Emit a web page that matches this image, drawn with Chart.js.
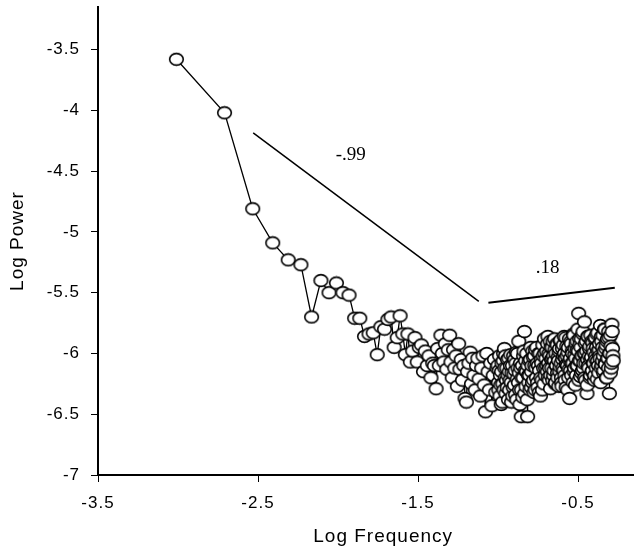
<!DOCTYPE html>
<html>
<head>
<meta charset="utf-8">
<script src="https://cdn.jsdelivr.net/npm/chart.js@4.4.1/dist/chart.umd.min.js"></script>
<style>
  html, body { margin: 0; padding: 0; background: #fff; }
  #wrap { width: 634px; height: 551px; }
</style>
</head>
<body>
<div id="wrap"><canvas id="spectrum"></canvas></div>
<script>
// log frequency of each spectral estimate
const logFreq = [
  -3.010,-2.709,-2.533,-2.408,-2.311,-2.232,-2.165,-2.107,-2.056,-2.010,
  -1.969,-1.931,-1.896,-1.864,-1.834,-1.806,-1.780,-1.755,-1.732,-1.709,
  -1.688,-1.668,-1.649,-1.630,-1.612,-1.595,-1.579,-1.563,-1.548,-1.533,
  -1.519,-1.505,-1.492,-1.479,-1.466,-1.454,-1.442,-1.431,-1.419,-1.408,
  -1.398,-1.387,-1.377,-1.367,-1.357,-1.348,-1.338,-1.329,-1.320,-1.311,
  -1.302,-1.294,-1.286,-1.278,-1.270,-1.262,-1.254,-1.246,-1.238,-1.230,
  -1.222,-1.214,-1.206,-1.198,-1.190,-1.182,-1.174,-1.166,-1.158,-1.150,
  -1.142,-1.134,-1.126,-1.118,-1.110,-1.102,-1.094,-1.086,-1.078,-1.070,
  -1.062,-1.054,-1.046,-1.038,-1.030,-1.022,-1.014,-1.006,
  -1.0000,-0.9975,-0.9950,-0.9925,-0.9900,-0.9875,-0.9850,-0.9825,-0.9800,-0.9775,
  -0.9750,-0.9725,-0.9700,-0.9675,-0.9650,-0.9625,-0.9600,-0.9575,-0.9550,-0.9525,
  -0.9500,-0.9475,-0.9450,-0.9425,-0.9400,-0.9375,-0.9350,-0.9325,-0.9300,-0.9275,
  -0.9250,-0.9225,-0.9200,-0.9175,-0.9150,-0.9125,-0.9100,-0.9075,-0.9050,-0.9025,
  -0.9000,-0.8975,-0.8950,-0.8925,-0.8900,-0.8875,-0.8850,-0.8825,-0.8800,-0.8775,
  -0.8750,-0.8725,-0.8700,-0.8675,-0.8650,-0.8625,-0.8600,-0.8575,-0.8550,-0.8525,
  -0.8500,-0.8475,-0.8450,-0.8425,-0.8400,-0.8375,-0.8350,-0.8325,-0.8300,-0.8275,
  -0.8250,-0.8225,-0.8200,-0.8175,-0.8150,-0.8125,-0.8100,-0.8075,-0.8050,-0.8025,
  -0.8000,-0.7975,-0.7950,-0.7925,-0.7900,-0.7875,-0.7850,-0.7825,-0.7800,-0.7775,
  -0.7750,-0.7725,-0.7700,-0.7675,-0.7650,-0.7625,-0.7600,-0.7575,-0.7550,-0.7525,
  -0.7500,-0.7475,-0.7450,-0.7425,-0.7400,-0.7375,-0.7350,-0.7325,-0.7300,-0.7275,
  -0.7250,-0.7225,-0.7200,-0.7175,-0.7150,-0.7125,-0.7100,-0.7075,-0.7050,-0.7025,
  -0.7000,
  -0.696,-0.694,-0.692,-0.690,-0.688,-0.686,-0.684,-0.682,-0.680,-0.678,
  -0.676,-0.674,-0.672,-0.670,-0.668,-0.666,-0.664,-0.662,-0.660,-0.658,
  -0.656,-0.654,-0.652,-0.650,-0.648,-0.646,-0.644,-0.642,-0.640,-0.638,
  -0.636,-0.634,-0.632,-0.630,-0.628,-0.626,-0.624,-0.622,-0.620,-0.618,
  -0.616,-0.614,-0.612,-0.610,-0.608,-0.606,-0.604,-0.602,-0.600,-0.598,
  -0.596,-0.594,-0.592,-0.590,-0.588,-0.586,-0.584,-0.582,-0.580,-0.578,
  -0.576,-0.574,-0.572,-0.570,-0.568,-0.566,-0.564,-0.562,-0.560,-0.558,
  -0.556,-0.554,-0.552,-0.550,-0.548,-0.546,-0.544,-0.542,-0.540,-0.538,
  -0.536,-0.534,-0.532,-0.530,-0.528,-0.526,-0.524,-0.522,-0.520,-0.518,
  -0.516,-0.514,-0.512,-0.510,-0.508,-0.506,-0.504,-0.502,-0.500,-0.498,
  -0.496,-0.494,-0.492,-0.490,-0.488,-0.486,-0.484,-0.482,-0.480,-0.478,
  -0.476,-0.474,-0.472,-0.470,-0.468,-0.466,-0.464,-0.462,-0.460,-0.458,
  -0.456,-0.454,-0.452,-0.450,-0.448,-0.446,-0.444,-0.442,-0.440,-0.438,
  -0.436,-0.434,-0.432,-0.430,-0.428,-0.426,-0.424,-0.422,-0.420,-0.418,
  -0.416,-0.414,-0.412,-0.410,-0.408,-0.406,-0.404,-0.402,-0.400,-0.398,
  -0.396,-0.394,-0.392,-0.390,-0.388,-0.386,-0.384,-0.382,-0.380,-0.378,
  -0.376,-0.374,-0.372,-0.370,-0.368,-0.366,-0.364,-0.362,-0.360,-0.358,
  -0.356,-0.354,-0.352,-0.350,-0.348,-0.346,-0.344,-0.342,-0.340,-0.338,
  -0.336,-0.334,-0.332,-0.330,-0.328,-0.326,-0.324,-0.322,-0.320,-0.318,
  -0.316,-0.314,-0.312,-0.310,-0.308,-0.306,-0.304,-0.302,-0.300,-0.298,
  -0.296,-0.294,-0.292,-0.290,-0.288,-0.286,-0.284,-0.282,-0.280
];

// log power
const logPower = [
  -3.58,-4.02,-4.81,-5.09,-5.23,-5.27,-5.70,-5.40,-5.50,-5.42,
  -5.50,-5.52,-5.71,-5.71,-5.86,-5.84,-5.83,-6.01,-5.78,-5.80,
  -5.72,-5.70,-5.95,-5.87,-5.69,-5.84,-6.01,-5.84,-6.07,-5.98,
  -5.87,-6.07,-5.95,-5.93,-6.15,-5.98,-6.10,-6.02,-6.20,-6.08,
  -6.10,-6.29,-5.96,-6.10,-5.85,-6.00,-6.07,-5.92,-6.13,-5.97,
  -5.85,-6.07,-6.20,-5.97,-6.12,-6.02,-6.27,-5.92,-6.13,-6.05,
  -6.22,-6.10,-6.37,-6.40,-6.15,-6.08,-5.99,-6.25,-6.04,-6.18,
  -6.30,-6.10,-6.04,-6.21,-6.35,-6.12,-6.02,-6.26,-6.48,-6.00,
  -6.15,-6.30,-6.08,-6.43,-6.18,-6.05,-6.32,-6.12,
  -6.10,-6.24,-6.30,-6.14,-6.02,-6.35,-6.18,-6.26,-6.42,-6.15,
  -6.08,-6.40,-6.25,-6.06,-6.00,-6.30,-5.96,-6.12,-6.20,-6.02,
  -6.33,-6.22,-6.12,-6.28,-6.05,-6.18,-6.38,-6.04,-6.15,-6.30,
  -6.22,-6.10,-6.01,-6.24,-6.40,-6.16,-6.10,-6.35,-6.28,-6.02,
  -6.17,-6.26,-6.05,-6.14,-6.34,-6.08,-5.99,-6.38,-6.21,-6.00,
  -6.12,-6.24,-5.90,-6.16,-6.30,-6.42,-6.08,-6.12,-6.52,-6.30,
  -6.20,-6.10,-6.36,-6.20,-6.02,-5.98,-5.82,-6.33,-6.14,-6.06,
  -6.27,-6.15,-6.00,-6.38,-6.52,-6.10,-6.18,-6.24,-6.06,-6.18,
  -6.30,-6.05,-5.95,-6.28,-6.15,-6.10,-6.24,-5.98,-6.03,-6.22,
  -6.32,-6.02,-6.10,-6.30,-5.97,-6.12,-6.20,-5.95,-6.08,-6.24,
  -6.28,-6.10,-6.00,-6.32,-6.14,-6.00,-6.35,-6.20,-6.05,-6.08,
  -6.22,-6.30,-5.93,-6.02,-6.12,-6.25,-5.88,-6.00,-6.18,-6.12,
  -6.04,
  -5.98,-6.10,-6.15,-5.92,-5.86,-6.20,-6.08,-6.00,-6.22,-6.12,
  -6.02,-5.90,-6.29,-6.18,-5.95,-6.05,-6.12,-5.95,-6.04,-6.22,
  -5.90,-6.02,-6.18,-6.14,-6.06,-5.88,-5.97,-6.25,-6.24,-6.00,
  -6.10,-6.10,-5.92,-5.93,-6.16,-6.20,-6.03,-6.06,-6.27,-5.98,
  -5.96,-6.15,-6.11,-5.90,-5.89,-6.08,-6.20,-6.24,-6.27,-5.96,
  -6.05,-6.12,-5.93,-6.02,-6.14,-5.86,-6.00,-6.18,-6.22,-6.04,
  -5.87,-6.28,-6.09,-5.94,-6.02,-6.10,-6.30,-5.99,-5.95,-6.20,
  -6.13,-5.88,-6.37,-6.06,-6.04,-6.14,-5.90,-5.92,-6.18,-6.08,
  -5.98,-6.00,-6.08,-6.24,-5.84,-5.85,-6.15,-6.12,-6.01,-5.96,
  -6.26,-6.04,-5.92,-6.18,-6.10,-5.90,-5.97,-6.10,-5.80,-5.98,
  -5.67,-6.22,-6.06,-5.88,-5.93,-6.06,-6.19,-5.95,-5.88,-6.16,
  -6.02,-6.02,-6.14,-5.84,-5.82,-6.12,-6.08,-6.00,-5.74,-6.20,
  -6.00,-5.92,-6.22,-6.08,-5.90,-5.98,-6.33,-6.26,-6.05,-5.86,
  -5.86,-6.10,-6.12,-6.02,-5.96,-5.94,-6.20,-6.18,-5.85,-6.05,
  -6.03,-5.90,-6.15,-6.14,-5.91,-5.96,-6.08,-6.08,-5.99,-6.22,
  -6.18,-5.88,-5.87,-6.02,-6.05,-6.12,-5.95,-5.84,-6.21,-6.06,
  -5.83,-5.98,-6.10,-6.16,-5.97,-5.92,-6.02,-6.04,-5.77,-6.24,
  -6.12,-5.86,-5.90,-6.10,-6.06,-5.95,-5.85,-6.02,-6.16,-6.14,
  -5.98,-5.80,-5.80,-6.08,-6.09,-5.96,-5.93,-6.20,-6.20,-5.90,
  -5.88,-6.04,-6.04,-6.12,-5.82,-5.87,-6.33,-6.00,-6.00,-6.16,
  -5.85,-5.94,-6.12,-6.08,-5.76,-5.82,-5.96,-6.02,-6.06
];

// fitted slopes (low and high frequency)
const fitLowX = [-2.53, -1.12];
const fitLowY = [-4.185, -5.572];
const fitHighX = [-1.06, -0.27];
const fitHighY = [-5.583, -5.46];
const slopeText = ['-.99', '.18'];
const slopeTextX = [-1.92, -0.69];
const slopeTextY = [-4.37, -5.30];

// axes
const xTicks = [-3.5, -2.5, -1.5, -0.5];
const yTicks = [-7, -6.5, -6, -5.5, -5, -4.5, -4, -3.5];
const xMin = -3.5, xMax = -0.15;
const yMin = -7, yMax = -3.15;

const spectrum = logFreq.map((x, i) => ({ x: x, y: logPower[i] }));
const lowFit = fitLowX.map((x, i) => ({ x: x, y: fitLowY[i] }));
const highFit = fitHighX.map((x, i) => ({ x: x, y: fitHighY[i] }));

// open oval marker like the original
const dot = document.createElement('canvas');
dot.width = 17;
dot.height = 15;
const g = dot.getContext('2d');
g.beginPath();
g.ellipse(8.5, 7.5, 6.8, 5.9, 0, 0, Math.PI * 2);
g.fillStyle = '#fff';
g.fill();
g.lineWidth = 1.6;
g.strokeStyle = '#000';
g.stroke();

const tickFont = { family: 'Liberation Sans, Arial, sans-serif', size: 17 };

const spacing = {
  id: 'spacing',
  beforeDraw(chart) {
    chart.ctx.letterSpacing = '1px';
  }
};

const notes = {
  id: 'notes',
  afterDraw(chart) {
    const ctx = chart.ctx;
    const xs = chart.scales.x, ys = chart.scales.y;
    ctx.save();
    ctx.fillStyle = '#000';
    ctx.textAlign = 'center';
    ctx.textBaseline = 'middle';
    ctx.letterSpacing = '0px';
    ctx.font = '19px "Liberation Serif", "Times New Roman", serif';
    for (let i = 0; i < slopeText.length; i++) {
      ctx.fillText(slopeText[i], xs.getPixelForValue(slopeTextX[i]), ys.getPixelForValue(slopeTextY[i]));
    }
    ctx.letterSpacing = '1px';
    ctx.font = '19px "Liberation Sans", Arial, sans-serif';
    const area = chart.chartArea;
    ctx.fillText('Log Frequency', area.left + (area.right - area.left) * 0.532, chart.height - 14);
    ctx.restore();
  }
};

new Chart(document.getElementById('spectrum'), {
  type: 'scatter',
  data: {
    datasets: [
      {
        data: spectrum,
        showLine: true,
        borderColor: '#000',
        borderWidth: 1.3,
        tension: 0,
        pointStyle: dot,
        pointRadius: 7,
        pointHoverRadius: 7
      },
      {
        data: lowFit,
        showLine: true,
        borderColor: '#000',
        borderWidth: 1.5,
        pointRadius: 0
      },
      {
        data: highFit,
        showLine: true,
        borderColor: '#000',
        borderWidth: 2,
        pointRadius: 0
      }
    ]
  },
  options: {
    responsive: true,
    maintainAspectRatio: false,
    animation: false,
    events: [],
    layout: { autoPadding: false, padding: { top: 7, right: 0, left: 0, bottom: 0 } },
    plugins: {
      legend: { display: false },
      tooltip: { enabled: false }
    },
    scales: {
      x: {
        type: 'linear',
        min: xMin,
        max: xMax,
        afterBuildTicks(scale) { scale.ticks = xTicks.map(v => ({ value: v })); },
        ticks: {
          color: '#000',
          font: tickFont,
          padding: 11,
          maxRotation: 0,
          autoSkip: false,
          callback: v => String(v)
        },
        grid: { drawOnChartArea: false, drawTicks: true, tickLength: 7, tickColor: '#000', lineWidth: 1 },
        border: { display: true, color: '#000', width: 2 },
        afterFit(scale) {
          scale.height = 76;
          scale.paddingLeft = 0;
          scale.paddingRight = 0;
        }
      },
      y: {
        type: 'linear',
        min: yMin,
        max: yMax,
        afterBuildTicks(scale) { scale.ticks = yTicks.map(v => ({ value: v })); },
        ticks: {
          color: '#000',
          font: tickFont,
          padding: 11,
          autoSkip: false,
          callback: v => String(v)
        },
        title: {
          display: true,
          text: 'Log Power',
          color: '#000',
          font: { family: 'Liberation Sans, Arial, sans-serif', size: 19 },
          padding: { top: 6, bottom: 0 }
        },
        grid: { drawOnChartArea: false, drawTicks: true, tickLength: 7, tickColor: '#000', lineWidth: 1 },
        border: { display: true, color: '#000', width: 2 },
        afterFit(scale) {
          scale.width = 98;
          scale.paddingTop = 0;
          scale.paddingBottom = 0;
        }
      }
    }
  },
  plugins: [spacing, notes]
});
</script>
</body>
</html>
